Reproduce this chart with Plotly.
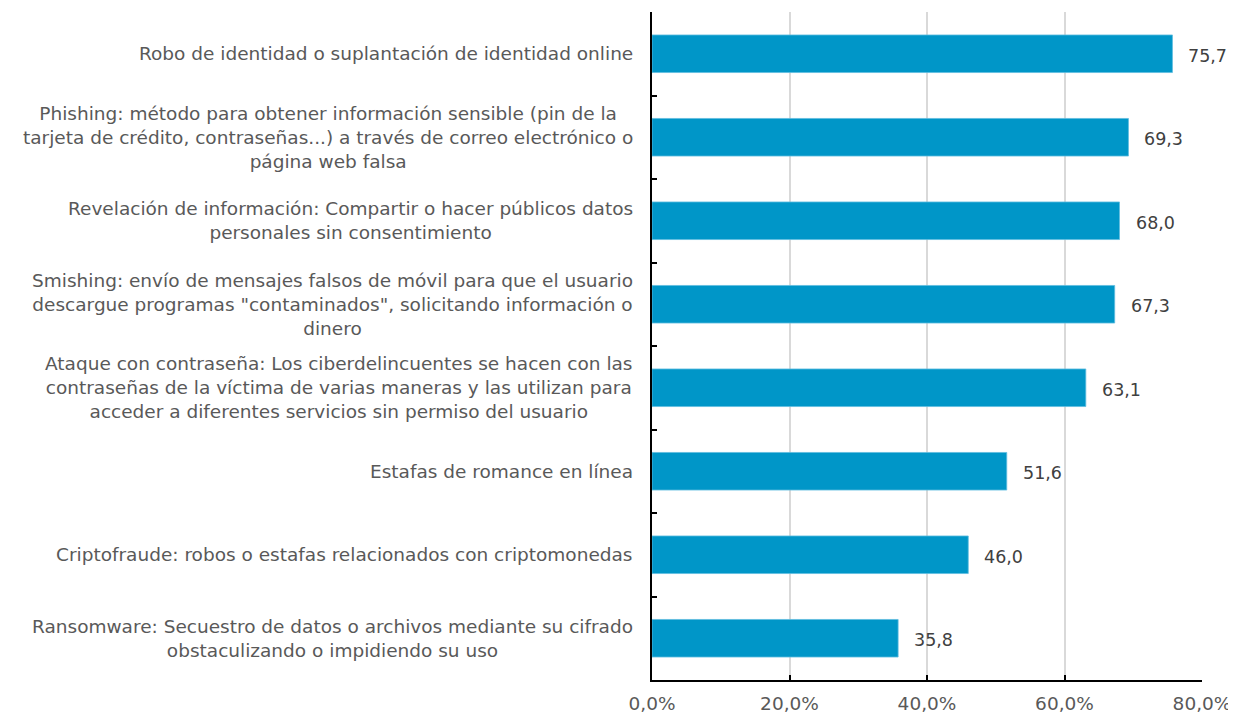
import plotly.graph_objects as go

categories = [
    "Robo de identidad o suplantación de identidad online",
    "Phishing: método para obtener información sensible (pin de la<br>tarjeta de crédito, contraseñas...) a través de correo electrónico o<br>página web falsa",
    "Revelación de información: Compartir o hacer públicos datos<br>personales sin consentimiento",
    "Smishing: envío de mensajes falsos de móvil para que el usuario<br>descargue programas \"contaminados\", solicitando información o<br>dinero",
    "Ataque con contraseña: Los ciberdelincuentes se hacen con las<br>contraseñas de la víctima de varias maneras y las utilizan para<br>acceder a diferentes servicios sin permiso del usuario",
    "Estafas de romance en línea",
    "Criptofraude: robos o estafas relacionados con criptomonedas",
    "Ransomware: Secuestro de datos o archivos mediante su cifrado<br>obstaculizando o impidiendo su uso",
]
values = [75.7, 69.3, 68.0, 67.3, 63.1, 51.6, 46.0, 35.8]
x_ticks = [0, 20, 40, 60, 80]
x_tick_labels = [f"{t:.1f}%".replace(".", ",") for t in x_ticks]

FONT = "DejaVu Sans, Verdana, sans-serif"

fig = go.Figure()
fig.add_trace(go.Bar(
    x=values, y=list(range(len(categories))), orientation="h",
    marker=dict(color="#0096c8", line=dict(color="#5fbde0", width=0.8)),
    width=0.45, hoverinfo="skip",
))

annotations = []
for i, (c, v) in enumerate(zip(categories, values)):
    annotations.append(dict(
        x=0, xref="paper", y=i, yref="y", text=c, showarrow=False,
        xanchor="right", yanchor="middle", align="center", xshift=-17,
        font=dict(family=FONT, size=18.5, color="#595959"),
    ))
    annotations.append(dict(
        x=v, xref="x", y=i, yref="y", text=f"{v:.1f}".replace(".", ","),
        showarrow=False, xanchor="left", yanchor="middle", xshift=14, yshift=-2,
        font=dict(family=FONT, size=17.5, color="#404040"),
    ))

fig.update_layout(
    width=1236, height=716,
    margin=dict(l=644, r=42, t=4, b=44),
    plot_bgcolor="white", paper_bgcolor="white",
    showlegend=False,
    annotations=annotations,
    font=dict(family=FONT, color="#595959"),
)
fig.update_xaxes(
    range=[0, 80], tickvals=x_ticks, ticktext=x_tick_labels,
    showgrid=True, gridcolor="#d9d9d9", gridwidth=1.5,
    showline=True, linecolor="black", linewidth=1.5,
    ticks="inside", ticklen=5, tickcolor="black", tickwidth=1.5,
    zeroline=False, ticklabelstandoff=6,
    tickfont=dict(family=FONT, size=18.5, color="#595959"),
)
fig.update_yaxes(
    type="linear", range=[len(categories) - 0.5, -0.5],
    tickvals=[i - 0.5 for i in range(len(categories) + 1)],
    showticklabels=False, showgrid=False, zeroline=False,
    showline=True, linecolor="black", linewidth=1.5,
    ticks="inside", ticklen=5, tickcolor="black", tickwidth=1.5,
)

fig.write_html("out.html")
